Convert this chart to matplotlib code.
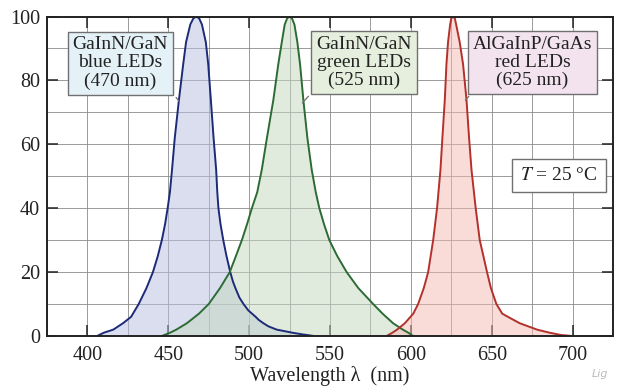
import numpy as np
import matplotlib
matplotlib.use('Agg')
import matplotlib.pyplot as plt

plt.rcParams['font.family'] = ['Liberation Serif', 'DejaVu Serif']
plt.rcParams['mathtext.fontset'] = 'stix'

# spectra (wavelength in nm, relative intensity in %)
blue_wl = [406, 410, 416, 422, 427, 431.7, 436.5, 440.5, 443.5, 446, 448, 449.6, 451, 452.3,
           454, 456.6, 459.2, 461, 463.6, 465.5, 467.3, 469.1, 470.8, 473.2, 474.7, 476.3,
           478, 479.6, 480.3, 481, 482.3, 484, 486, 488.3, 490, 491.5, 494, 496.5, 499.5,
           504, 506, 508.8, 512, 517, 523, 527, 533, 540]
blue_val = [0, 1, 2, 4, 6, 10, 15, 20, 25, 30, 35, 40, 45, 52,
            62, 74, 85, 92, 97.5, 99.4, 100, 99.4, 97.5, 92, 85, 74,
            62, 52, 45, 40, 35, 30, 25, 20, 17, 15, 12, 10, 8,
            6, 5, 4, 3, 2, 1.4, 1, 0.5, 0]

green_wl = [446, 451, 455, 461.5, 469, 475, 482, 488, 491.8, 495.5, 498.7, 501.7, 505, 507.8,
            511, 515, 518, 520.2, 522, 523.5, 525, 526.5, 528, 529.8, 531.5, 533.5, 536,
            538.7, 541.2, 543.4, 546.3, 549.6, 554.5, 560.3, 567.5, 576.7, 582.5, 589, 595,
            598.5, 601.4]
green_val = [0, 1, 2, 4, 7, 10, 15, 20, 25, 30, 35, 40, 45, 52,
             62, 74, 85, 92, 97.5, 99.4, 100, 99.4, 97.5, 92, 85, 74, 62,
             52, 45, 40, 35, 30, 25, 20, 15, 10, 7, 4, 2,
             1, 0]

red_wl = [585, 588.5, 591.5, 596.3, 601.5, 604.5, 608, 610.7, 613.8, 616.2, 618.3, 619.5,
          621, 622, 623, 624.3, 625, 626.1, 627.2, 628, 630.2, 632.3, 634.4, 636, 637.5,
          640.1, 642.6, 647.1, 649.5, 652.9, 656.5, 660, 667.3, 678, 686, 693, 699.8]
red_val = [0, 1, 2, 4, 7, 10, 15, 20, 30, 40, 52, 62,
           74, 85, 92, 97.5, 99.4, 100, 99.4, 97.5, 92, 85, 74, 62, 52,
           40, 30, 20, 15, 10, 7, 6, 4, 2, 1, 0.3, 0]

labels = ['GaInN/GaN\nblue LEDs\n(470 nm)',
          'GaInN/GaN\ngreen LEDs\n(525 nm)',
          'AlGaInP/GaAs\nred LEDs\n(625 nm)']

x_ticks = [400, 450, 500, 550, 600, 650, 700]
y_ticks = [0, 20, 40, 60, 80, 100]

fig = plt.figure(figsize=(6.17, 3.91), dpi=100)
ax = fig.add_axes([0.0762, 0.1407, 0.9173, 0.8171])

series = [
    (blue_wl, blue_val, '#1c2a78', '#b9bfe0'),
    (green_wl, green_val, '#2c6b34', '#c3d8bf'),
    (red_wl, red_val, '#b3302b', '#f4b8b2'),
]
for wl, val, lc, fc in series:
    ax.fill_between(wl, val, 0, color=fc, alpha=0.5, linewidth=0, zorder=2)
    ax.plot(wl, val, color=lc, linewidth=1.4, zorder=3, solid_joinstyle='round')

# label boxes with short pointer lines to the curves
box_specs = [
    (420.3, 85.4, '#e4f1f7', (454.9, 74.6), (456.8, 73.4)),
    (571.0, 85.6, '#e6efdd', (536.6, 75.0), (533.0, 73.0)),
    (675.2, 85.6, '#f3e3ef', (635.8, 75.0), (633.8, 73.8)),
]
for text, (bx, by, bc, p0, p1) in zip(labels, box_specs):
    ax.text(bx, by, text, ha='center', va='center', fontsize=14,
            linespacing=1.08, color='#222222', zorder=6,
            bbox=dict(boxstyle='square,pad=0.25', facecolor=bc,
                      edgecolor='#707070', linewidth=1.0))
    ax.plot([p0[0], p1[0]], [p0[1], p1[1]], color='#707070', linewidth=0.9, zorder=5)

ax.text(691.4, 50.3, '$T$ = 25 °C', ha='center', va='center', fontsize=14,
        color='#222222', zorder=6,
        bbox=dict(boxstyle='square,pad=0.42', facecolor='white',
                  edgecolor='#707070', linewidth=1.0))

ax.set_xlim(375, 725)
ax.set_ylim(0, 100)
ax.set_xticks(x_ticks)
ax.set_yticks(y_ticks)
ax.set_xticks(np.arange(375, 726, 25), minor=True)
ax.set_yticks(np.arange(0, 101, 10), minor=True)
ax.grid(True, which='both', color='#8a8a8a', linewidth=0.6, zorder=1)
ax.set_axisbelow(True)
ax.tick_params(which='major', direction='in', length=8, width=1.1,
               top=True, right=True, labelsize=14.5, colors='#222222', pad=5)
ax.tick_params(axis='x', which='major', pad=7)
ax.tick_params(which='minor', length=0)
for s in ax.spines.values():
    s.set_linewidth(1.4)
    s.set_color('#222222')
    s.set_zorder(7)

ax.set_xlabel('Wavelength λ  (nm)', fontsize=14.5, color='#222222', labelpad=1)

fig.text(0.985, 0.03, 'Lig', fontsize=8, style='italic', color='#bbbbbb',
         ha='right', va='bottom', family='DejaVu Sans')

fig.savefig('out.png', dpi=100)
